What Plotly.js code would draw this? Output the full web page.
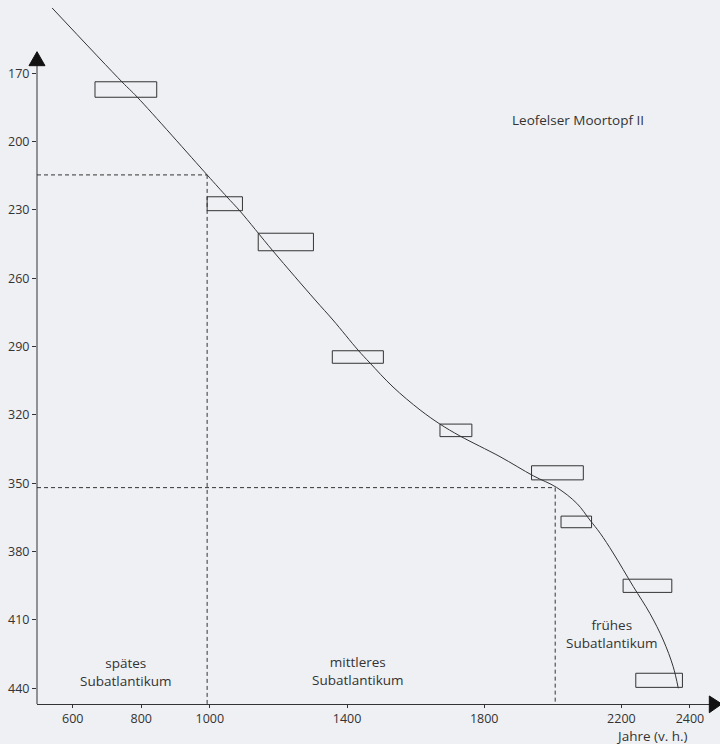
<!DOCTYPE html>
<html>
<head>
<meta charset="utf-8">
<script src="https://cdn.plot.ly/plotly-3.0.1.min.js"></script>
<style>
html,body{margin:0;padding:0;background:#eff0f4;}
#chart{width:720px;height:744px;}
</style>
</head>
<body>
<div id="chart"></div>
<script>
// Age-depth curve (x: Jahre v. h., y: depth)
const curveYears = [540, 744, 788, 992, 1050, 1088, 1184, 1307, 1359, 1432, 1467, 1534, 1613, 1671, 1729, 1846, 1943, 2011, 2070, 2108, 2138, 2176, 2235, 2283, 2322, 2351, 2366];
const curveDepth = [141.3, 173.8, 180.4, 214.6, 224.3, 230.5, 248.0, 269.5, 278.3, 291.5, 297.2, 307.7, 317.8, 324.0, 329.2, 338.3, 346.7, 351.8, 358.8, 366.1, 371.9, 380.6, 395.4, 407.1, 418.8, 430.5, 440.0];

// Dating boxes (age range x depth range)
const boxYearFrom = [665, 992, 1141, 1357, 1671, 1938, 2024, 2205, 2242];
const boxYearTo   = [845, 1095, 1302, 1506, 1764, 2089, 2113, 2347, 2378];
const boxDepthTop = [173.7, 224.2, 240.2, 291.8, 324.0, 342.3, 364.4, 392.1, 433.4];
const boxDepthBot = [180.5, 230.3, 247.9, 297.3, 329.5, 348.5, 369.5, 397.9, 439.6];

// Period boundaries (dashed guides)
const boundaryYears = [992, 2007];
const boundaryDepth = [214.6, 351.9];

const xTicks = [600, 800, 1000, 1400, 1800, 2200, 2400];
const yTicks = [170, 200, 230, 260, 290, 320, 350, 380, 410, 440];

const periodLabels = ["spätes<br>Subatlantikum", "mittleres<br>Subatlantikum", "frühes<br>Subatlantikum"];
const periodLabelX = [755, 1433, 2173];
const periodLabelY = [432.8, 432.5, 416.2];

const siteName = "Leofelser Moortopf II";
const siteX = 2073, siteY = 190.5;
const xTitle = "Jahre (v. h.)";

const X0 = 495.9, X1 = 2458.4, Y0 = 446.9, Y1 = 137.8;
const ink = "#333333";
const font = {family: "Open Sans, Noto Sans, sans-serif", size: 13.5, color: ink};

const shapes = [];
for (let i = 0; i < boxYearFrom.length; i++) {
  shapes.push({type: "rect", xref: "x", yref: "y",
    x0: boxYearFrom[i], x1: boxYearTo[i], y0: boxDepthTop[i], y1: boxDepthBot[i],
    line: {color: ink, width: 1}, fillcolor: "rgba(0,0,0,0)"});
}
for (let i = 0; i < boundaryYears.length; i++) {
  shapes.push({type: "line", xref: "x", yref: "y",
    x0: X0, x1: boundaryYears[i], y0: boundaryDepth[i], y1: boundaryDepth[i],
    line: {color: ink, width: 1, dash: "4px,3px"}});
  shapes.push({type: "line", xref: "x", yref: "y",
    x0: boundaryYears[i], x1: boundaryYears[i], y0: boundaryDepth[i], y1: Y0,
    line: {color: ink, width: 1, dash: "4px,3px"}});
}
// y axis line and arrow heads
shapes.push({type: "line", xref: "paper", yref: "paper", x0: 0, x1: 0, y0: 0, y1: 0.9075,
  line: {color: ink, width: 1}});
shapes.push({type: "path", xref: "paper", yref: "paper",
  path: "M -0.0119 0.9067 L 0.0119 0.9067 L 0 0.9266 Z",
  fillcolor: "#111111", line: {color: "#111111", width: 1}});
shapes.push({type: "path", xref: "paper", yref: "paper",
  path: "M 0.999 0.0114 L 0.999 -0.0124 L 1.0175 0 Z",
  fillcolor: "#111111", line: {color: "#111111", width: 1}});

const annotations = [];
for (let i = 0; i < periodLabels.length; i++) {
  annotations.push({text: periodLabels[i], x: periodLabelX[i], y: periodLabelY[i],
    xref: "x", yref: "y", showarrow: false, font: font, align: "center"});
}
annotations.push({text: siteName, x: siteX, y: siteY, xref: "x", yref: "y",
  showarrow: false, font: font});
annotations.push({text: xTitle, x: 0.9703, y: -0.0455, xref: "paper", yref: "paper",
  xanchor: "right", yanchor: "middle", showarrow: false, font: font});

const data = [{
  x: curveYears, y: curveDepth, type: "scatter", mode: "lines",
  line: {color: ink, width: 1, shape: "spline", smoothing: 1},
  hoverinfo: "skip"
}];

const layout = {
  width: 720, height: 744,
  margin: {l: 37, r: 10, t: 0, b: 40},
  paper_bgcolor: "#eff0f4", plot_bgcolor: "#eff0f4",
  showlegend: false,
  font: font,
  xaxis: {range: [X0, X1], tickvals: xTicks, ticks: "outside", ticklen: 3, tickcolor: ink,
    showline: true, linecolor: ink, linewidth: 1, showgrid: false, zeroline: false,
    tickfont: {family: font.family, size: 12.5, color: ink}},
  yaxis: {range: [Y0, Y1], tickvals: yTicks, ticks: "outside", ticklen: 4, tickcolor: ink,
    showline: false, showgrid: false, zeroline: false,
    tickfont: {family: font.family, size: 12.5, color: ink}},
  shapes: shapes,
  annotations: annotations
};

Plotly.newPlot("chart", data, layout, {displayModeBar: false, staticPlot: true});
</script>
</body>
</html>
